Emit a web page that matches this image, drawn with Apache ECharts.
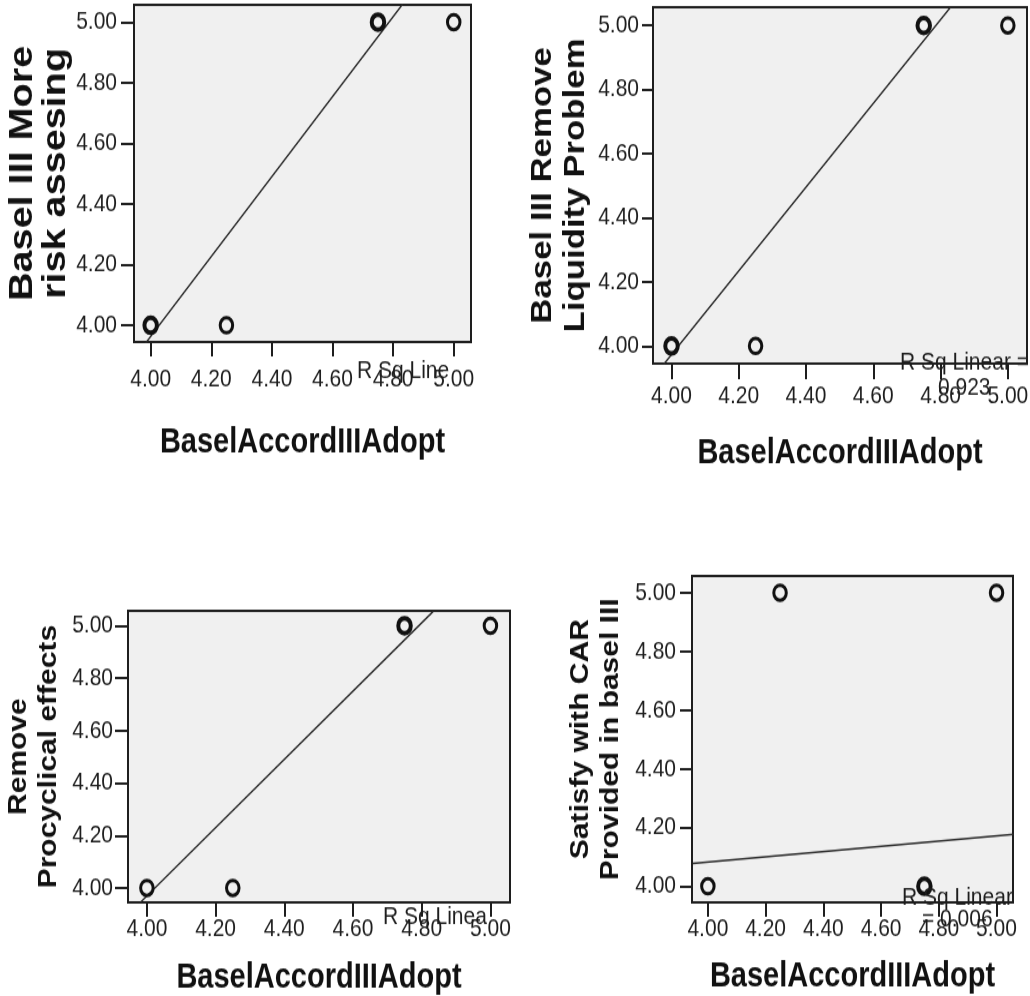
<!DOCTYPE html>
<html>
<head>
<meta charset="utf-8">
<script src="https://cdn.jsdelivr.net/npm/echarts@6/dist/echarts.min.js"></script>
<style>
  html, body { margin: 0; padding: 0; background: #fff; }
  #page { position: relative; width: 1030px; height: 996px; overflow: hidden; background: #fff; }
  /* the chart is laid out at 830px tall and stretched to 996px, giving the tall glyphs and oval markers */
  #stage { position: absolute; left: 0; top: 0; width: 1030px; height: 830px;
           transform: scaleY(1.2); transform-origin: 0 0; }
</style>
</head>
<body>
<div id="page"><div id="stage"></div></div>
<script>
// ---- data ----
const xTitle = 'BaselAccordIIIAdopt';
const tickValues = [4.00, 4.20, 4.40, 4.60, 4.80, 5.00];
const adoptScores = [4.00, 4.25, 4.75, 5.00];

const yTitles = [
  'Basel III More\nrisk assesing',
  'Basel III Remove\nLiquidity Problem',
  'Remove\nProcyclical effects',
  'Satisfy with CAR\nProvided in basel III'
];

// responses on each item, with the number of coinciding cases at each point
const riskAssessing = [4.00, 4.00, 5.00, 5.00];
const riskCases = [2, 1, 2, 1];
const liquidity = [4.00, 4.00, 5.00, 5.00];
const liquidityCases = [2, 1, 2, 1];
const procyclical = [4.00, 4.00, 5.00, 5.00];
const procyclicalCases = [1, 1, 2, 1];
const carSatisfied = [4.00, 5.00, 4.00, 5.00];
const carCases = [1, 1, 2, 1];

// fitted linear lines, as [x, y] end points
const riskFit = [[3.980, 3.937], [4.832, 5.060]];
const liquidityFit = [[3.977, 3.943], [4.829, 5.056]];
const procyclicalFit = [[3.981, 3.945], [4.833, 5.054]];
const carFit = [[3.948, 4.078], [5.060, 4.177]];

// R-squared captions as printed
const rSqCaptions = ['R Sq Line', 'R Sq Linear =', '0.923', 'R Sq Linea', 'R Sq Linear', '= 0.006'];

const axisMin = 3.945;
const axisMax = 5.057;

// ---- layout ----
const FONT = '"Liberation Sans", Arial, Helvetica, sans-serif';
const INK = '#1e1e1e';

const panels = [
  { y: riskAssessing, cases: riskCases, fit: riskFit,
    grid: { left: 134, top: 4, width: 337, height: 281 },
    xLabelMargin: 21, xTick: 12, xNameGap: 69,
    yLabelMargin: 17, yTick: 13, yNameSize: 33, yNameLine: 33, yNameGap: 62 },
  { y: liquidity, cases: liquidityCases, fit: liquidityFit,
    grid: { left: 653, top: 6, width: 374, height: 297 },
    xLabelMargin: 17, xTick: 13, xNameGap: 60,
    yLabelMargin: 14, yTick: 11, yNameSize: 29, yNameLine: 33, yNameGap: 61 },
  { y: procyclical, cases: procyclicalCases, fit: procyclicalFit,
    grid: { left: 128, top: 509, width: 382, height: 243 },
    xLabelMargin: 12, xTick: 12, xNameGap: 48,
    yLabelMargin: 15, yTick: 13, yNameSize: 25, yNameLine: 30, yNameGap: 64 },
  { y: carSatisfied, cases: carCases, fit: carFit,
    grid: { left: 692, top: 480, width: 321, height: 272 },
    xLabelMargin: 12, xTick: 12, xNameGap: 47,
    yLabelMargin: 16, yTick: 12, yNameSize: 25, yNameLine: 30, yNameGap: 66 }
];

const captionPos = [
  { x: 357, y: 309 },
  { x: 900, y: 302 },
  { x: 938, y: 323 },
  { x: 383, y: 764 },
  { x: 902, y: 748 },
  { x: 922, y: 766 }
];

const fmt = v => v.toFixed(2);

const grids = [], xAxes = [], yAxes = [], series = [];

panels.forEach((p, i) => {
  grids.push(Object.assign({
    show: true,
    backgroundColor: '#f0f0f0',
    borderColor: INK,
    borderWidth: 2,
    containLabel: false,
    outerBoundsMode: 'none'
  }, p.grid));

  xAxes.push({
    gridIndex: i, type: 'value', min: axisMin, max: axisMax,
    name: xTitle, nameLocation: 'middle', nameGap: p.xNameGap,
    nameTextStyle: { fontFamily: FONT, fontSize: 29, fontWeight: 'bold', color: '#111' },
    axisLine: { show: true, onZero: false, lineStyle: { color: INK, width: 2 } },
    axisTick: { show: true, length: p.xTick, customValues: tickValues, lineStyle: { color: INK, width: 2 } },
    axisLabel: { margin: p.xLabelMargin, customValues: tickValues, formatter: fmt,
                 fontFamily: FONT, fontSize: 21, color: INK },
    splitLine: { show: false }
  });

  yAxes.push({
    gridIndex: i, type: 'value', min: axisMin, max: axisMax,
    name: yTitles[i], nameLocation: 'middle', nameGap: p.yNameGap, nameRotate: 90,
    nameTextStyle: { fontFamily: FONT, fontSize: p.yNameSize, lineHeight: p.yNameLine,
                     fontWeight: 'bold', color: '#111', align: 'center' },
    axisLine: { show: true, onZero: false, lineStyle: { color: INK, width: 2 } },
    axisTick: { show: true, length: p.yTick, customValues: tickValues, lineStyle: { color: INK, width: 2 } },
    axisLabel: { margin: p.yLabelMargin, customValues: tickValues, formatter: fmt,
                 fontFamily: FONT, fontSize: 21, color: INK },
    splitLine: { show: false }
  });

  series.push({
    type: 'line', xAxisIndex: i, yAxisIndex: i,
    data: p.fit, symbol: 'none', clip: true, silent: true, z: 2,
    lineStyle: { color: '#2a2a2a', width: 1.4 }
  });

  series.push({
    type: 'scatter', xAxisIndex: i, yAxisIndex: i, z: 3,
    symbol: 'circle', symbolSize: 12.5,
    data: adoptScores.map((x, k) => ({
      value: [x, p.y[k]],
      itemStyle: { borderWidth: p.cases[k] > 1 ? 4 : 3 }
    })),
    itemStyle: { color: 'rgba(0,0,0,0)', borderColor: '#111', opacity: 1 }
  });
});

const graphic = rSqCaptions.map((text, k) => ({
  type: 'text', x: captionPos[k].x, y: captionPos[k].y, z: 50, silent: true,
  style: { text, fontFamily: FONT, fontSize: 21, fill: INK, align: 'left', verticalAlign: 'middle' }
}));

const chart = echarts.init(document.getElementById('stage'), null, { renderer: 'canvas' });
chart.setOption({
  animation: false,
  backgroundColor: '#ffffff',
  grid: grids,
  xAxis: xAxes,
  yAxis: yAxes,
  series: series,
  graphic: graphic
});
</script>
</body>
</html>
